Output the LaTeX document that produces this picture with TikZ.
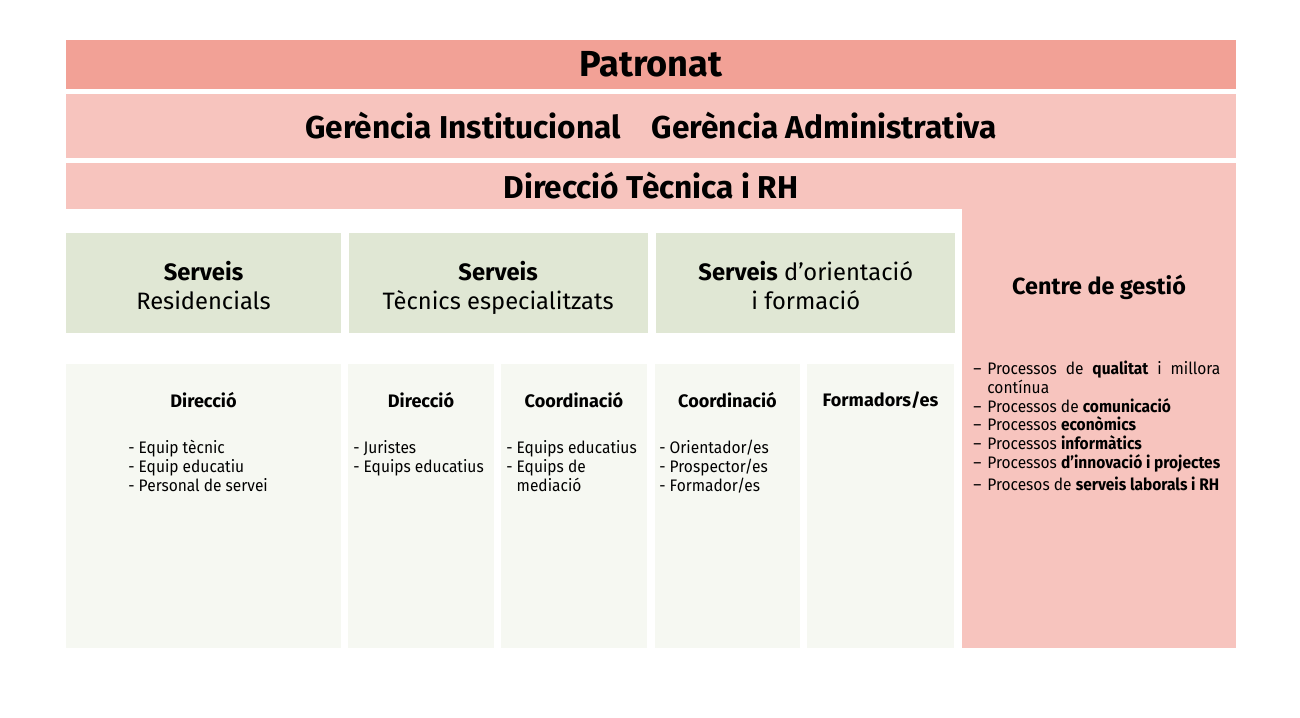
\documentclass[tikz,border=0pt]{standalone}
\usepackage{fontspec}
\setmainfont{Fira Sans}
\newfontfamily\llistafont{Fira Sans}[FakeStretch=0.93]
\usetikzlibrary{positioning}
\definecolor{msalmon}{HTML}{F2A196}
\definecolor{mpink}{HTML}{F7C4BE}
\definecolor{mgreen}{HTML}{E0E7D4}
\definecolor{mcream}{HTML}{F6F8F2}
\tikzstyle{franja} = [rectangle, minimum width=23.4cm, inner sep=0pt, text centered, fill=mpink, font=\bfseries\fontsize{18}{20}\selectfont]
\tikzstyle{servei} = [rectangle, minimum height=2cm, inner sep=0pt, align=center, fill=mgreen, font=\fontsize{13.5}{16.4}\selectfont]
\tikzstyle{equip} = [rectangle, minimum height=5.68cm, inner sep=0pt, fill=mcream]
\tikzstyle{capequip} = [inner sep=0pt, font=\bfseries\fontsize{10.3}{12}\selectfont]
\tikzstyle{llista} = [anchor=north west, inner sep=0pt, align=left, font=\llistafont\fontsize{9.5}{10.8}\selectfont]
\newcommand{\proces}[1]{\par\hangindent=0.28cm\hangafter=1\noindent\makebox[0.28cm][l]{–}#1}
\newcommand{\puntal}{\rule{0pt}{18.4pt}}
\begin{document}
\begin{tikzpicture}[x=0.02cm, y=-0.02cm]
  \useasboundingbox (0,0) rectangle (1300,717);
  % capcalera
  \node (patronat) [franja, fill=msalmon, minimum height=1cm, font=\bfseries\fontsize{20.6}{24}\selectfont] at (651,64.5) {Patronat};
  \node (gerencia) [franja, minimum height=1.28cm] at (651,126) {Gerència Institucional\hspace{0.62cm}Gerència Administrativa};
  \node (direccio) [franja, minimum height=0.92cm] at (651,185.5) {Direcció Tècnica i RH};
  \node (centre) [rectangle, minimum width=5.48cm, minimum height=8.8cm, inner sep=0pt, fill=mpink] at (1099,428) {};
  \node (centretitol) [font=\bfseries\fontsize{13.3}{16}\selectfont] at (1099,287) {Centre de gestió};
  % serveis
  \node (residencials) [servei, minimum width=5.5cm] at (203.5,283) {\puntal\textbf{Serveis}\\\strut Residencials};
  \node (tecnics) [servei, minimum width=5.98cm, right=0.14cm of residencials] {\puntal\textbf{Serveis}\\\strut Tècnics especialitzats};
  \node (orientacio) [servei, minimum width=5.98cm, right=0.16cm of tecnics] {\puntal\textbf{Serveis} d’orientació\\\strut i formació};
  % equips
  \node (eqres) [equip, minimum width=5.5cm] at (203.5,506) {};
  \node (eqdir) [equip, minimum width=2.92cm] at (421,506) {};
  \node (eqcoord) [equip, minimum width=2.92cm] at (574,506) {};
  \node (eqorient) [equip, minimum width=2.9cm] at (727.5,506) {};
  \node (eqform) [equip, minimum width=2.94cm] at (880.5,506) {};
  \node (capres) [capequip] at (203.5,400) {Direcció};
  \node (capdir) [capequip] at (421,400) {Direcció};
  \node (capcoord) [capequip] at (574,400) {Coordinació};
  \node (caporient) [capequip] at (727.5,400) {Coordinació};
  \node (capform) [capequip] at (880.5,400) {Formadors/es};
  \node (llres) [llista] at (128,440) {- Equip tècnic\\- Equip educatiu\\- Personal de servei};
  \node (lldir) [llista] at (353,440) {- Juristes\\- Equips educatius};
  \node (llcoord) [llista] at (506,440) {- Equips educatius\\- Equips de\\\hphantom{- }mediació};
  \node (llorient) [llista] at (659,440) {- Orientador/es\\- Prospector/es\\- Formador/es};
  % processos
  \node (processos) [llista, text width=4.94cm, align=justify, font=\llistafont\fontsize{9.5}{10.6}\selectfont] at (973,356) {%
    \proces{Processos de \textbf{qualitat} i millora\linebreak contínua}
    \proces{Processos de \textbf{comunicació}}
    \proces{Processos \textbf{econòmics}}
    \proces{Processos \textbf{informàtics}}
    \proces{Processos \textbf{d’innovació i projectes}}\par\vspace{2.3pt}
    \proces{Procesos de \textbf{serveis laborals i RH}}};
\end{tikzpicture}
\end{document}
